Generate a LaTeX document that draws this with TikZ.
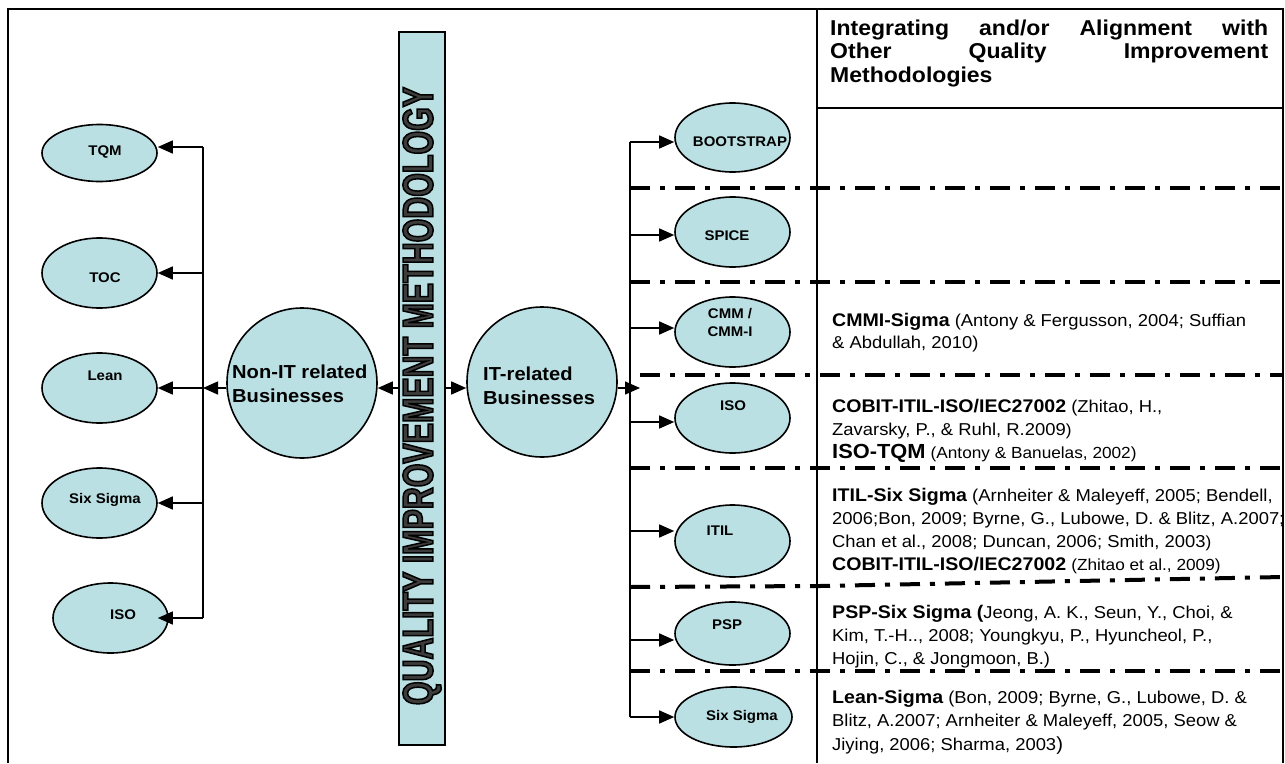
\documentclass[tikz,border=0pt]{standalone}
\usepackage{fontspec}
\setmainfont{Liberation Sans}[FakeStretch=1.07]
\newfontfamily\barfont{Liberation Sans}[FakeStretch=0.707]
\usetikzlibrary{shapes.geometric,arrows.meta}
\definecolor{qblue}{RGB}{187,224,227}
\definecolor{bartext}{RGB}{60,60,60}
\newcommand\qb[1]{{\fontsize{18.3}{23}\selectfont\bfseries #1}}
\newcommand\qs[1]{{\fontsize{16.1}{23}\selectfont #1}}
\begin{document}
\begin{tikzpicture}[x=1pt,y=-1pt,
  conn/.style={line width=1.5pt,-{Triangle[length=15pt,width=13pt]}},
  plain/.style={line width=1.5pt},
  oval/.style={ellipse,draw,line width=1.6pt,fill=qblue,inner sep=0pt},
  circ/.style={circle,draw,line width=1.6pt,fill=qblue,minimum size=150pt,inner sep=0pt},
  lab/.style={font=\fontsize{14}{18}\selectfont\bfseries,inner sep=0pt,align=center},
  sepline/.style={line width=4pt,dash pattern=on 20pt off 10pt on 5pt off 10pt},
  frame/.style={line width=2pt},
  cite/.style={anchor=base west,inner sep=0pt}]
\useasboundingbox (0,0) rectangle (1285,763);

% frame
\coordinate (fTL) at (8,9);
\coordinate (fTR) at (1283,9);
\coordinate (fBL) at (8,763);
\coordinate (fBR) at (1283,763);
\coordinate (pT) at (817,9);
\coordinate (pB) at (817,763);
\coordinate (hL) at (817,108);
\coordinate (hR) at (1283,108);
\draw[frame] (fBL) -- (fTL) -- (fTR) -- (fBR);
\draw[frame] (pT) -- (pB);
\draw[frame] (hL) -- (hR);

% separators
\coordinate (s1a) at (630,188); \coordinate (s1b) at (1283,188);
\coordinate (s2a) at (630,282); \coordinate (s2b) at (1283,282);
\coordinate (s3a) at (640,375); \coordinate (s3b) at (1283,375);
\coordinate (s4a) at (630,468); \coordinate (s4b) at (1283,468);
\coordinate (s5a) at (630,587); \coordinate (s5m) at (820,586); \coordinate (s5b) at (1283,577);
\coordinate (s6a) at (630,671); \coordinate (s6b) at (1283,671);
\draw[sepline] (s1a) -- (s1b);
\draw[sepline] (s2a) -- (s2b);
\draw[sepline] (s3a) -- (s3b);
\draw[sepline] (s4a) -- (s4b);
\draw[sepline] (s5a) -- (s5m) -- (s5b);
\draw[sepline] (s6a) -- (s6b);

% central bar
\node[draw,line width=2pt,fill=qblue,minimum width=46pt,minimum height=713pt,inner sep=0pt] (bar) at (422,388.5) {};
\node[rotate=90,inner sep=0pt,text=bartext] (bartxt) at (422,396)
  {\barfont\fontsize{43}{50}\selectfont\bfseries\special{pdf:literal direct 0 G 2 Tr 1.5 w}QUALITY IMPROVEMENT METHODOLOGY\special{pdf:literal direct 0 Tr}};

% circles
\node[circ] (nonit) at (302,383) {};
\node[cite] (nonitt) at (232,378) {\parbox[t]{150pt}{\fontsize{18.8}{24}\selectfont\bfseries Non-IT related\\Businesses}};
\node[circ] (itc) at (542,382) {};
\node[cite] (itct) at (483,380) {\parbox[t]{150pt}{\fontsize{18.8}{24}\selectfont\bfseries IT-related\\Businesses}};

% left ellipses
\node[oval,minimum width=115pt,minimum height=57pt] (tqm) at (99.5,153) {};
\node[oval,minimum width=115pt,minimum height=70pt] (toc) at (99.5,273) {};
\node[oval,minimum width=115pt,minimum height=70pt] (lean) at (99.5,388) {};
\node[oval,minimum width=115pt,minimum height=70pt] (lsix) at (99.5,503) {};
\node[oval,minimum width=115pt,minimum height=70pt] (liso) at (110.5,618) {};
\node[lab] (tqmt) at (105,152) {TQM};
\node[lab] (toct) at (105,278) {TOC};
\node[lab] (leant) at (105,376) {Lean};
\node[lab] (lsixt) at (105,500) {Six Sigma};
\node[lab] (lisot) at (123,615) {ISO};

% right ellipses
\node[oval,minimum width=115pt,minimum height=69pt] (boot) at (732.5,137.5) {};
\node[oval,minimum width=115pt,minimum height=70pt] (spice) at (732.5,232) {};
\node[oval,minimum width=115pt,minimum height=70pt] (cmm) at (732.5,332) {};
\node[oval,minimum width=115pt,minimum height=70pt] (riso) at (732.5,418) {};
\node[oval,minimum width=115pt,minimum height=72pt] (itil) at (732.5,541) {};
\node[oval,minimum width=115pt,minimum height=63pt] (psp) at (732.5,633.5) {};
\node[oval,minimum width=117pt,minimum height=60pt] (rsix) at (733.5,717) {};
\node[lab] (boott) at (740,142) {BOOTSTRAP};
\node[lab] (spicet) at (727,236) {SPICE};
\node[lab] (cmmt) at (730,322) {CMM /\\CMM-I};
\node[lab] (risot) at (733,406) {ISO};
\node[lab] (itilt) at (720,531) {ITIL};
\node[lab] (pspt) at (727,625) {PSP};
\node[lab] (rsixt) at (742,717) {Six Sigma};

% connectors: centre
\coordinate (ya) at (0,388);
\draw[conn] (bar.west |- ya) -- (nonit.east |- ya);
\draw[conn] (bar.east |- ya) -- (itc.west |- ya);

% left tree
\coordinate (ltrunk) at (203,388);
\coordinate (lt1) at (203,147);
\coordinate (lt2) at (203,273);
\coordinate (lt4) at (203,503);
\coordinate (lt5) at (203,618);
\draw[plain] (lt1) -- (lt5);
\draw[conn] (nonit.west |- ya) -- (ltrunk);
\draw[conn] (lt1) -- (tqm.east |- lt1);
\draw[conn] (lt2) -- (toc.east |- lt2);
\draw[conn] (ltrunk) -- (lean.east |- ltrunk);
\draw[conn] (lt4) -- (lsix.east |- lt4);
\draw[conn] (lt5) -- ([xshift=-11pt]liso.east |- lt5);

% right tree
\coordinate (rtip) at (640,388);
\coordinate (rt1) at (630,142);
\coordinate (rt2) at (630,235);
\coordinate (rt3) at (630,328);
\coordinate (rt4) at (630,422);
\coordinate (rt5) at (630,531);
\coordinate (rt6) at (630,640);
\coordinate (rt7) at (630,717);
\draw[plain] (rt1) -- (rt7);
\draw[conn] (itc.east |- ya) -- (rtip);
\draw[conn] (rt1) -- (boot.west |- rt1);
\draw[conn] (rt2) -- (spice.west |- rt2);
\draw[conn] (rt3) -- (cmm.west |- rt3);
\draw[conn] (rt4) -- (riso.west |- rt4);
\draw[conn] (rt5) -- (itil.west |- rt5);
\draw[conn] (rt6) -- (psp.west |- rt6);
\draw[conn] (rt7) -- (rsix.west |- rt7);

% right panel texts
\node[cite] (hdr) at (830,35) {\parbox[t]{438pt}{\fontsize{21.5}{23.5}\selectfont\bfseries Integrating\hfill and/or\hfill Alignment\hfill with\\Other\hfill Quality\hfill Improvement\\Methodologies}};

\node[cite] (c1) at (832,326) {\parbox[t]{470pt}{\raggedright\fontsize{17.2}{22}\selectfont
  \qb{CMMI-Sigma} (Antony \& Fergusson, 2004; Suffian\\
  \& Abdullah, 2010)}};

\node[cite] (c2) at (832,412) {\parbox[t]{470pt}{\raggedright\fontsize{17.2}{23}\selectfont
  \qb{COBIT-ITIL-ISO/IEC27002} (Zhitao, H.,\\
  Zavarsky, P., \& Ruhl, R.2009\qs{)}\\
  {\fontsize{20.4}{23}\selectfont\bfseries ISO-TQM} \qs{(Antony \& Banuelas, 2002)}}};

\node[cite] (c3) at (832,501) {\parbox[t]{470pt}{\raggedright\fontsize{17.2}{23}\selectfont
  \qb{ITIL-Six Sigma} (Arnheiter \& Maleyeff, 2005; Bendell,\\
  2006;Bon, 2009; Byrne, G., Lubowe, D. \& Blitz, A.2007;\\
  Chan et al., 2008; Duncan, 2006; Smith, 2003\qs{)}\\
  \qb{COBIT-ITIL-ISO/IEC27002} \qs{(Zhitao et al., 2009)}}};

\node[cite] (c4) at (832,618) {\parbox[t]{470pt}{\raggedright\fontsize{17.2}{23}\selectfont
  \qb{PSP-Six Sigma (}Jeong, A. K., Seun, Y., Choi, \&\\
  Kim, T.-H.., 2008; Youngkyu, P., Hyuncheol, P.,\\
  Hojin, C., \& Jongmoon, B.)}};

\node[cite] (c5) at (832,703) {\parbox[t]{470pt}{\raggedright\fontsize{17.2}{23.5}\selectfont
  \qb{Lean-Sigma} (Bon, 2009; Byrne, G., Lubowe, D. \&\\
  Blitz, A.2007; Arnheiter \& Maleyeff, 2005, Seow \&\\
  Jiying, 2006; Sharma, 2003{\fontsize{19}{23}\selectfont)}}};
\end{tikzpicture}
\end{document}
